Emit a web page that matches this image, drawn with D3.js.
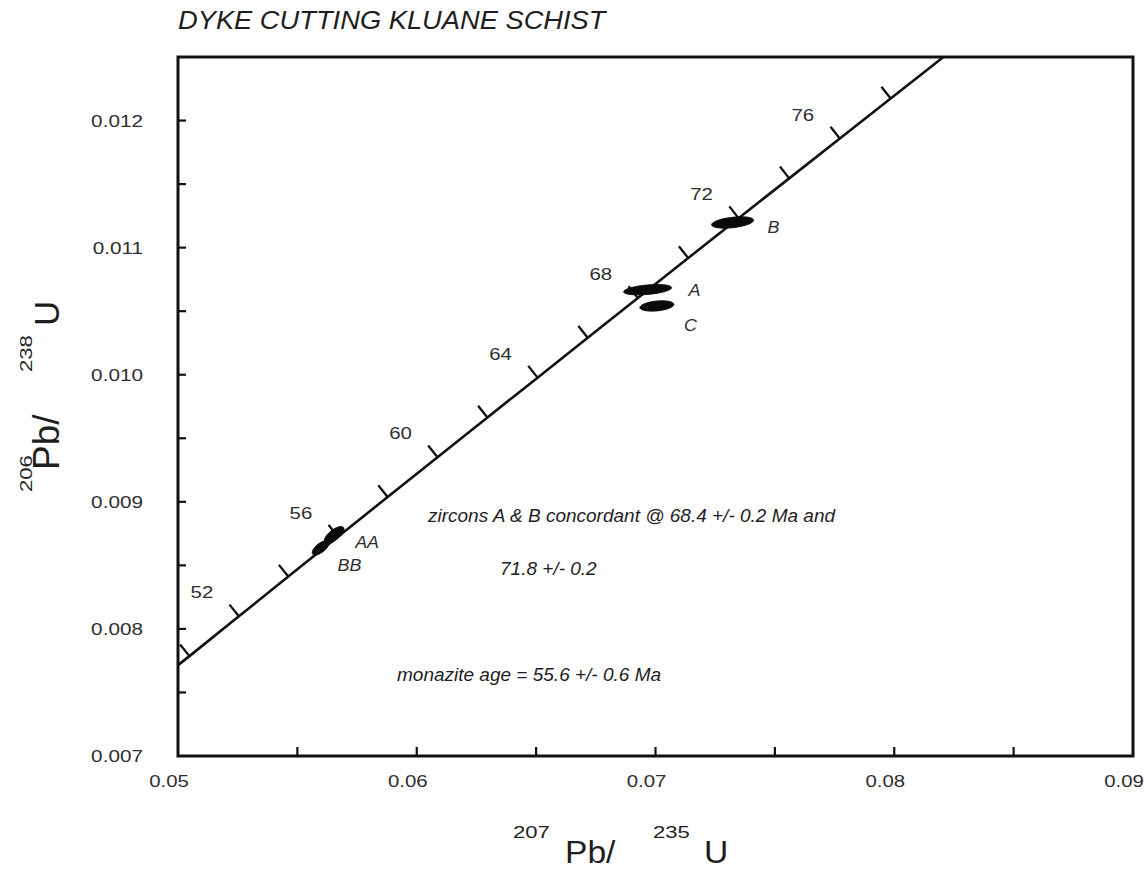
<!DOCTYPE html>
<meta charset="utf-8" />
<head>
  <script src="https://d3js.org/d3.v7.min.js"></script>
  <title>Concordia</title>
  <style>
    body {
      margin: 0;
      background: #fff;
    }
    text {
      font-family: "Liberation Sans", Arial, sans-serif;
    }
  </style>
</head>
<body>
  <svg id="chart" width="1146" height="871"></svg>
</body>

<script>
  // axis ticks
  const xTicks = [0.05, 0.06, 0.07, 0.08, 0.09];
  const xMinor = [0.055, 0.06, 0.065, 0.07, 0.075, 0.08, 0.085];
  const yTicks = [0.007, 0.008, 0.009, 0.01, 0.011, 0.012];
  const yMinor = [0.0075, 0.008, 0.0085, 0.009, 0.0095, 0.01, 0.0105, 0.011, 0.0115, 0.012];

  // concordia, 2 Ma steps (207Pb/235U, 206Pb/238U)
  const concAges = [50, 52, 54, 56, 58, 60, 62, 64, 66, 68, 70, 72, 74, 76, 78];
  const conc207 = [0.05048, 0.05255, 0.05462, 0.0567, 0.05878, 0.06087, 0.06296, 0.06506, 0.06716, 0.06926, 0.07137, 0.07348, 0.0756, 0.07772, 0.07985];
  const conc206 = [0.007786, 0.008099, 0.008412, 0.008725, 0.009038, 0.009351, 0.009664, 0.009977, 0.010291, 0.010604, 0.010918, 0.011232, 0.011545, 0.011859, 0.012173];
  const concStart = [0.05, 0.007715];
  const concEnd = [0.08206, 0.0125];
  const labelAges = [52, 56, 60, 64, 68, 72, 76];

  // analyses (error ellipses)
  const spotNames = ["A", "C", "B", "AA", "BB"];
  const spot207 = [0.06967, 0.07006, 0.07323, 0.05654, 0.05597];
  const spot206 = [0.010669, 0.010541, 0.011198, 0.008739, 0.008637];
  const spotErr207 = [0.001005, 0.000712, 0.00088, 0.000413, 0.000347];
  const spotErr206 = [0.0000405, 0.0000405, 0.0000445, 0.0000661, 0.000056];
  const spotRho = [0.4, 0.3, 0.4, 0.69, 0.65];

  const notes = [
    "zircons A & B concordant @ 68.4 +/- 0.2 Ma and",
    "71.8 +/- 0.2",
    "monazite age = 55.6 +/- 0.6 Ma",
  ];

  const svg = d3.select("#chart");
  const margin = { top: 57, right: 13, bottom: 115, left: 178 };
  const W = +svg.attr("width"),
    H = +svg.attr("height");

  const x = d3.scaleLinear().domain([0.05, 0.09]).range([margin.left, W - margin.right]);
  const y = d3.scaleLinear().domain([0.007, 0.0125]).range([H - margin.bottom, margin.top]);

  const ink = "#111";
  const grey = "#2e2e2e";

  // stretched text helper (the original lettering is a bit wide)
  const txt = (g, px, py, s, o = {}) => {
    const t = g
      .append("g")
      .attr("transform", `translate(${px},${py})${o.rot ? " rotate(" + o.rot + ")" : ""} scale(${o.sx || 1},1)`)
      .append("text")
      .attr("text-anchor", o.anchor || "start")
      .attr("dy", o.dy || 0)
      .attr("font-size", o.size || 17)
      .attr("font-style", o.italic ? "italic" : "normal")
      .attr("fill", o.fill || grey)
      .text(s);
    return t;
  };

  // title
  txt(svg, 178, 29, "DYKE CUTTING KLUANE SCHIST", { size: 26, italic: true, fill: "#1e1e1e", sx: 1.05 });

  // frame
  svg
    .append("rect")
    .attr("x", x(0.05))
    .attr("y", y(0.0125))
    .attr("width", x(0.09) - x(0.05))
    .attr("height", y(0.007) - y(0.0125))
    .attr("fill", "none")
    .attr("stroke", ink)
    .attr("stroke-width", 3);

  // axis ticks, pointing inward
  svg
    .append("g")
    .selectAll("line")
    .data(xMinor)
    .join("line")
    .attr("x1", (d) => x(d))
    .attr("x2", (d) => x(d))
    .attr("y1", y(0.007))
    .attr("y2", y(0.007) - 9)
    .attr("stroke", ink)
    .attr("stroke-width", 2.2);

  svg
    .append("g")
    .selectAll("line")
    .data(yMinor)
    .join("line")
    .attr("x1", x(0.05))
    .attr("x2", x(0.05) + 8)
    .attr("y1", (d) => y(d))
    .attr("y2", (d) => y(d))
    .attr("stroke", ink)
    .attr("stroke-width", 2.2);

  const fmtY = d3.format(".3f");
  const fmtX = d3.format(".2f");

  const gyl = svg.append("g");
  yTicks.forEach((v) => txt(gyl, 143, y(v), fmtY(v), { anchor: "end", dy: "0.36em", sx: 1.22 }));
  const gxl = svg.append("g");
  xTicks.forEach((v) => txt(gxl, x(v) - 9, 787, fmtX(v), { anchor: "middle", sx: 1.2 }));

  // axis titles
  const gxt = svg.append("g");
  txt(gxt, 513, 838, "207", { size: 17, sx: 1.3, fill: "#1e1e1e" });
  txt(gxt, 565, 863, "Pb/", { size: 32, sx: 1.05, fill: "#1e1e1e" });
  txt(gxt, 653, 838, "235", { size: 17, sx: 1.3, fill: "#1e1e1e" });
  txt(gxt, 704, 863, "U", { size: 32, sx: 1.05, fill: "#1e1e1e" });

  const gyt = svg.append("g");
  txt(gyt, 32, 492, "206", { size: 17, sx: 1.3, rot: -90, fill: "#1e1e1e" });
  txt(gyt, 59, 470, "Pb/", { size: 37, rot: -90, fill: "#1e1e1e" });
  txt(gyt, 32, 372, "238", { size: 17, sx: 1.3, rot: -90, fill: "#1e1e1e" });
  txt(gyt, 59, 326, "U", { size: 35, rot: -90, fill: "#1e1e1e" });

  // concordia curve
  const concPts = [concStart].concat(concAges.map((a, i) => [conc207[i], conc206[i]]), [concEnd]);
  const line = d3
    .line()
    .x((d) => x(d[0]))
    .y((d) => y(d[1]));

  svg
    .append("path")
    .attr("d", line(concPts))
    .attr("fill", "none")
    .attr("stroke", ink)
    .attr("stroke-width", 2.6);

  // age ticks, perpendicular to the curve on the upper-left side
  const tickLen = 15;
  const gAge = svg.append("g");
  concAges.forEach((a, i) => {
    const px = x(conc207[i]),
      py = y(conc206[i]);
    const j0 = Math.max(0, i - 1),
      j1 = Math.min(concAges.length - 1, i + 1);
    const dx = x(conc207[j1]) - x(conc207[j0]),
      dy = y(conc206[j1]) - y(conc206[j0]);
    const len = Math.hypot(dx, dy);
    const nx = dy / len,
      ny = -dx / len;
    gAge
      .append("line")
      .attr("x1", px)
      .attr("y1", py)
      .attr("x2", px + nx * tickLen)
      .attr("y2", py + ny * tickLen)
      .attr("stroke", ink)
      .attr("stroke-width", 2.3);
    if (labelAges.includes(a)) {
      txt(gAge, px - 37, py - 24, String(a), { anchor: "middle", dy: "0.36em", sx: 1.2 });
    }
  });

  // error ellipses
  const ellipse = (i) => {
    const pts = d3.range(0, 361, 6).map((deg) => {
      const t = (deg * Math.PI) / 180;
      const ex = spot207[i] + spotErr207[i] * Math.cos(t);
      const ey =
        spot206[i] +
        spotErr206[i] * (spotRho[i] * Math.cos(t) + Math.sqrt(1 - spotRho[i] ** 2) * Math.sin(t));
      return [ex, ey];
    });
    return line(pts) + "Z";
  };

  svg
    .append("g")
    .selectAll("path")
    .data(spotNames)
    .join("path")
    .attr("d", (d, i) => ellipse(i))
    .attr("fill", "#0a0a0a")
    .attr("stroke", "#0a0a0a")
    .attr("stroke-width", 1);

  const spotOff = { A: [41, 6], C: [27, 25], B: [35, 11], AA: [21, 13], BB: [17, 23] };
  const gsl = svg.append("g");
  spotNames.forEach((s, i) => {
    txt(gsl, x(spot207[i]) + spotOff[s][0], y(spot206[i]) + spotOff[s][1], s, {
      size: 16,
      italic: true,
      sx: 1.12,
    });
  });

  // notes
  const gn = svg.append("g");
  txt(gn, 428, 522, notes[0], { size: 19, italic: true, fill: "#1e1e1e" });
  txt(gn, 500, 575, notes[1], { size: 19, italic: true, fill: "#1e1e1e" });
  txt(gn, 397, 681, notes[2], { size: 19, italic: true, fill: "#1e1e1e" });
</script>
